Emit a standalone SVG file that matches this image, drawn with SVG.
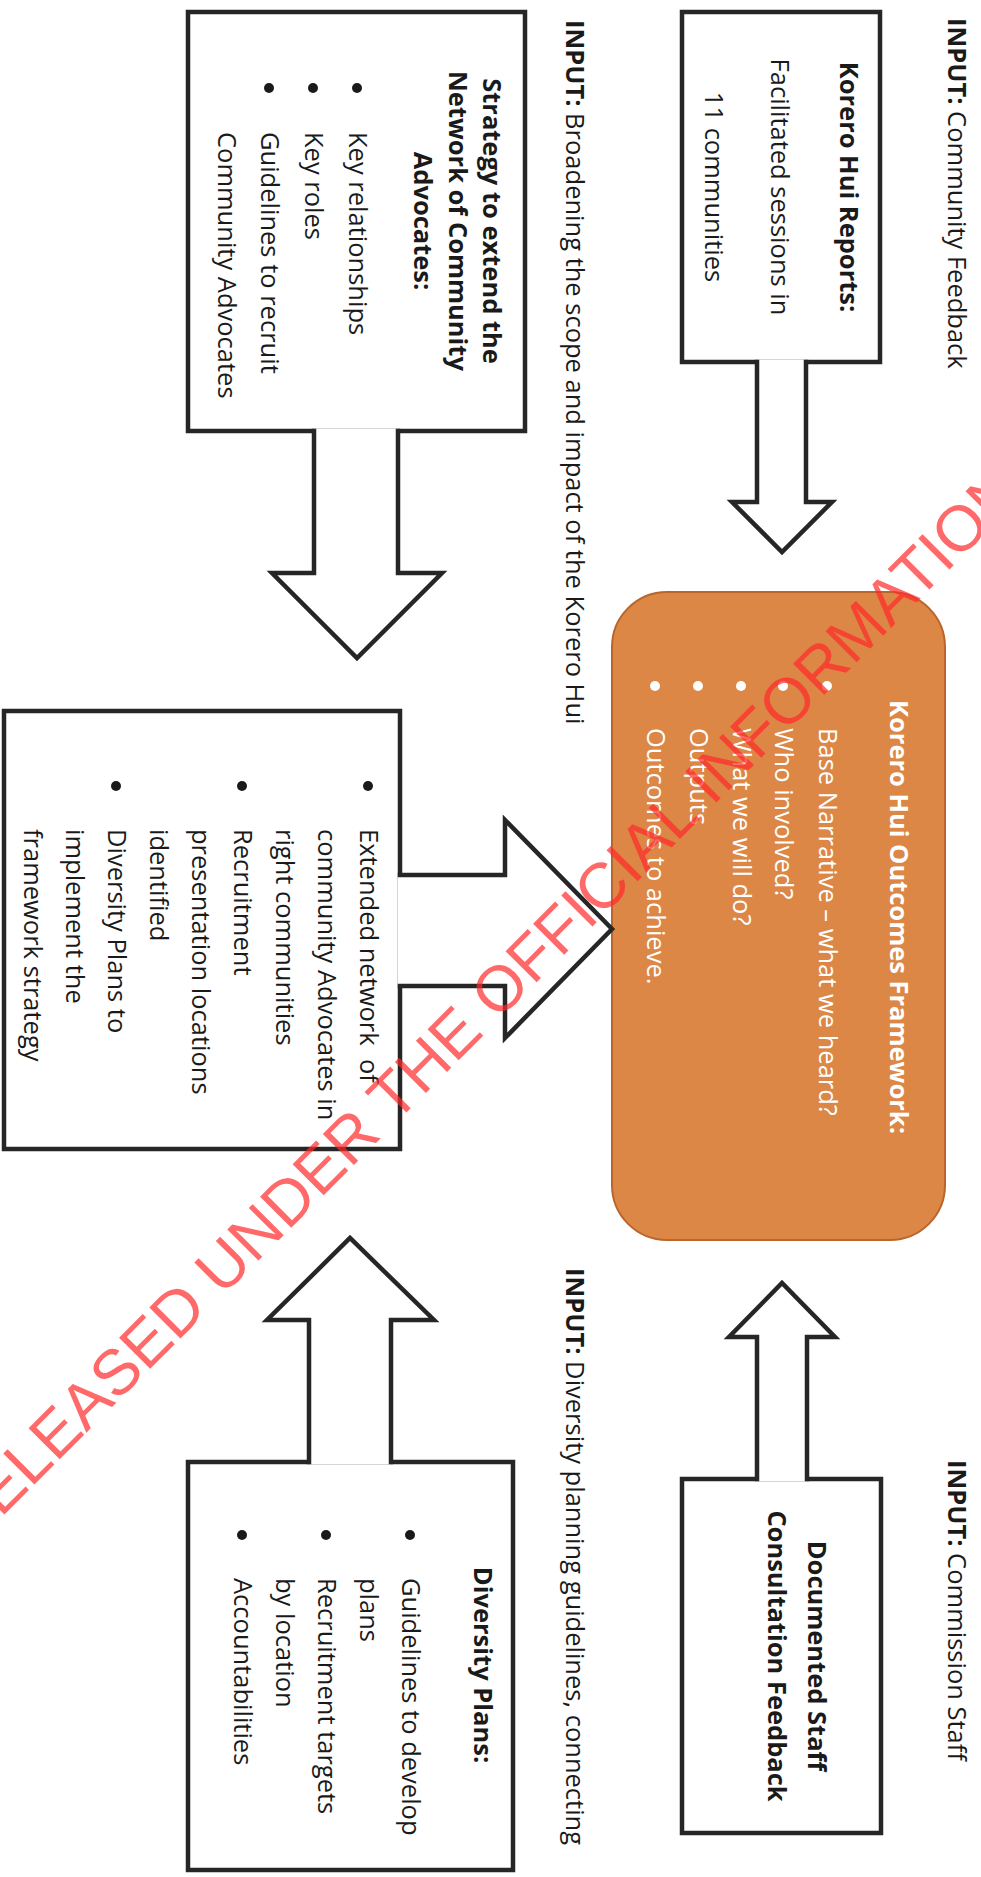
<svg xmlns="http://www.w3.org/2000/svg" width="981" height="1877" viewBox="0 0 981 1877">
<style>
.t{font-family:"Open Sans","Liberation Sans",sans-serif;font-size:25.5px;fill:#1a1a1a}
.b{font-weight:700}
.m{text-anchor:middle}
.w{fill:#ffffff}
.box{fill:#ffffff;stroke:#262626;stroke-width:4.5}
.arr{fill:#ffffff;stroke:#262626;stroke-width:4.5;stroke-linejoin:miter}
.dot{fill:#1a1a1a}
.wdot{fill:#ffffff}
.wm{font-family:"Liberation Sans",Arial,sans-serif;font-size:64px;fill:#ff2a2a;fill-opacity:0.7}
</style>
<rect x="0" y="0" width="981" height="1877" fill="#ffffff"/>

<g id="labels">
  <g transform="translate(981 0) rotate(90)">
    <text class="t" x="18" y="33"><tspan class="b">INPUT:</tspan> Community Feedback</text>
    <text class="t" x="20" y="415"><tspan class="b">INPUT:</tspan> Broadening the scope and impact of the Korero Hui</text>
    <text class="t" x="1268" y="415"><tspan class="b">INPUT:</tspan> Diversity planning guidelines, connecting</text>
    <text class="t" x="1460" y="33"><tspan class="b">INPUT:</tspan> Commission Staff</text>
  </g>
</g>

<g id="korero-hui-reports">
  <rect class="box" x="682" y="12" width="198" height="350"/>
  <g transform="translate(981 0) rotate(90)">
    <text class="t b m" x="187" y="141">Korero Hui Reports:</text>
    <text class="t m" x="187" y="210">Facilitated sessions in</text>
    <text class="t m" x="187" y="276">11 communities</text>
  </g>
</g>

<g id="strategy">
  <rect class="box" x="188" y="12" width="337" height="419"/>
  <circle class="dot" cx="357" cy="88" r="5"/>
  <circle class="dot" cx="313" cy="88" r="5"/>
  <circle class="dot" cx="269" cy="88" r="5"/>
  <g transform="translate(981 0) rotate(90)">
    <text class="t b m" x="221" y="498">Strategy to extend the</text>
    <text class="t b m" x="221" y="532">Network of Community</text>
    <text class="t b m" x="221" y="567">Advocates:</text>
    <text class="t" x="132" y="632">Key relationships</text>
    <text class="t" x="132" y="676">Key roles</text>
    <text class="t" x="132" y="720">Guidelines to recruit</text>
    <text class="t" x="132" y="763">Community Advocates</text>
  </g>
</g>

<g id="outcomes-framework">
  <rect x="612" y="592" width="333" height="648" rx="55" ry="55" fill="#dc8746" stroke="#b9652c" stroke-width="2"/>
  <circle class="wdot" cx="827" cy="686" r="5"/>
  <circle class="wdot" cx="783" cy="686" r="5"/>
  <circle class="wdot" cx="741" cy="686" r="5"/>
  <circle class="wdot" cx="698" cy="686" r="5"/>
  <circle class="wdot" cx="655" cy="686" r="5"/>
  <g transform="translate(981 0) rotate(90)">
    <text class="t b m w" x="917" y="91">Korero Hui Outcomes Framework:</text>
    <text class="t w" x="728" y="162">Base Narrative – what we heard?</text>
    <text class="t w" x="728" y="206">Who involved?</text>
    <text class="t w" x="728" y="248">What we will do?</text>
    <text class="t w" x="728" y="291">Outputs</text>
    <text class="t w" x="728" y="334">Outcomes to achieve.</text>
  </g>
</g>

<g id="outputs">
  <rect class="box" x="4" y="711" width="396" height="438"/>
  <circle class="dot" cx="368" cy="786" r="5"/>
  <circle class="dot" cx="242" cy="786" r="5"/>
  <circle class="dot" cx="116" cy="786" r="5"/>
  <g transform="translate(981 0) rotate(90)">
    <text class="t" x="829" y="621" xml:space="preserve">Extended network  of</text>
    <text class="t" x="829" y="663">community Advocates in</text>
    <text class="t" x="829" y="705">right communities</text>
    <text class="t" x="829" y="747">Recruitment</text>
    <text class="t" x="829" y="789">presentation locations</text>
    <text class="t" x="829" y="831">identified</text>
    <text class="t" x="829" y="873">Diversity Plans to</text>
    <text class="t" x="829" y="915">implement the</text>
    <text class="t" x="829" y="957">framework strategy</text>
  </g>
</g>

<g id="documented-staff">
  <rect class="box" x="682" y="1479" width="199" height="354"/>
  <g transform="translate(981 0) rotate(90)">
    <text class="t b m" x="1656" y="173">Documented Staff</text>
    <text class="t b m" x="1656" y="213">Consultation Feedback</text>
  </g>
</g>

<g id="diversity-plans">
  <rect class="box" x="188" y="1462" width="325" height="408"/>
  <circle class="dot" cx="410" cy="1535" r="5"/>
  <circle class="dot" cx="326" cy="1535" r="5"/>
  <circle class="dot" cx="242" cy="1535" r="5"/>
  <g transform="translate(981 0) rotate(90)">
    <text class="t b m" x="1665" y="507">Diversity Plans:</text>
    <text class="t" x="1578" y="579">Guidelines to develop</text>
    <text class="t" x="1578" y="621">plans</text>
    <text class="t" x="1578" y="663">Recruitment targets</text>
    <text class="t" x="1578" y="705">by location</text>
    <text class="t" x="1578" y="747">Accountabilities</text>
  </g>
</g>

<g id="connectors">
  <path class="arr" d="M757,359.75 V502 H732 L782,552 L832,502 H806 V359.75"/>
  <path class="arr" d="M314,428.75 V573 H272 L357,658 L442,573 H398 V428.75"/>
  <path class="arr" d="M397.75,875 H505 V820 L612,929 L505,1038 V986 H397.75"/>
  <path class="arr" d="M757,1481.25 V1337 H729 L782,1283 L835,1337 H807 V1481.25"/>
  <path class="arr" d="M309,1464.25 V1320 H267 L350,1238 L434,1320 H391 V1464.25"/>
</g>

<g id="watermark">
  <text class="wm" x="-32" y="1551" transform="rotate(-45 -32 1551)">RELEASED UNDER THE OFFICIAL INFORMATION</text>
</g>
</svg>
